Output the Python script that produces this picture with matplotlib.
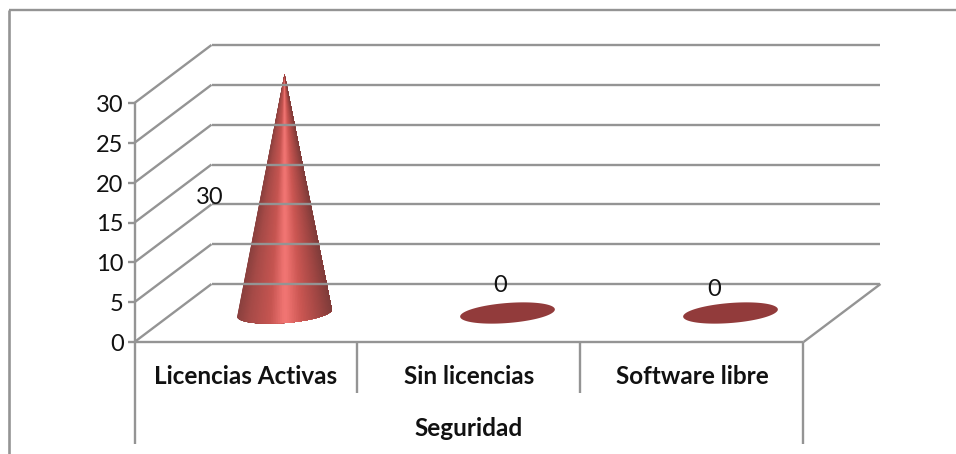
import numpy as np
import matplotlib
matplotlib.use("Agg")
import matplotlib.pyplot as plt
from matplotlib.patches import Polygon

categories = ["Licencias Activas", "Sin licencias", "Software libre"]
group_label = "Seguridad"
values = [30, 0, 0]
y_ticks = [0, 5, 10, 15, 20, 25, 30]

W, H = 956, 454
GREY = "#949494"
FLAT = "#923b3b"
plt.rcParams["font.family"] = ["Lato", "DejaVu Sans"]

fig = plt.figure(figsize=(W / 100, H / 100), dpi=100)
# axes = front plane of the 3d box
ax = fig.add_axes([134.5 / W, 1 - 342 / H, (803 - 134) / W, (342 - 103) / H])
ax.set_xlim(0, len(categories))
ax.set_ylim(0, max(y_ticks))
ax.axis("off")

# depth of the box, in pixels
dx, dy = 77, 58


def px(x, y, depth=0.0):
    p = ax.transData.transform((x, y))
    return p[0] + dx * depth, p[1] + dy * depth


def line(a, b, lw=1.7, z=1):
    fig.add_artist(plt.Line2D([a[0] / W, b[0] / W], [a[1] / H, b[1] / H],
                              color=GREY, lw=lw, zorder=z, solid_capstyle="butt"))


def ftext(p, s, **kw):
    fig.text(p[0] / W, p[1] / H, s, **kw)


# outer chart border (only top and left visible)
line((9, H - 10), (W, H - 10), lw=1.7)
line((9, H - 10), (9, 0), lw=1.9)

# walls
for t in y_ticks:
    a = px(0, t)
    b = px(0, t, 1)
    c = px(len(categories), t, 1)
    line(a, b)
    line(b, c)
    line((a[0] - 7, a[1]), a)
    ftext((a[0] - 11, a[1] - 2.5), str(t), ha="right", va="center", fontsize=17, color="#111111")

line(px(0, 0), px(0, 30))
line(px(0, 0), px(3, 0))
line(px(3, 0), px(3, 0, 1))

# category axis
for i in range(len(categories) + 1):
    x0, y0 = px(i, 0)
    drop = 102 if i in (0, len(categories)) else 51
    line((x0, y0), (x0, y0 - drop))
for i, c in enumerate(categories):
    x0, y0 = px(i + 0.5, 0)
    ftext((x0, y0 - 35), c, ha="center", va="center", fontsize=17.5, fontweight="bold", color="#111111")
x0, y0 = px(1.5, 0)
ftext((x0, y0 - 86), group_label, ha="center", va="center", fontsize=17.5, fontweight="bold", color="#111111")


def base(cx, cy, n=161):
    # tilted ellipse for the cone base
    a, b, tilt = 47.5, 10, np.radians(4.5)
    t = np.linspace(0, 2 * np.pi, n)
    ex = a * np.cos(t)
    ey = b * np.sin(t)
    return cx + ex * np.cos(tilt) - ey * np.sin(tilt), cy + ex * np.sin(tilt) + ey * np.cos(tilt)


stops = [-1.0, -0.75, -0.3, -0.02, 0.05, 0.35, 0.75, 1.0]
cols = np.array([matplotlib.colors.to_rgb(c) for c in
                 ["#8a403e", "#a64a47", "#c65551", "#f07472", "#f07472", "#cc5753", "#a04643", "#803c3a"]])


def shade(u):
    return [np.interp(u, stops, cols[:, k]) for k in range(3)]


label_shift = [(-75, -124), (-7, 28), (-16, 23)]
for i, v in enumerate(values):
    cx, cy = px(i + 0.5, 0, 0.5)
    ex, ey = base(cx, cy)
    if v == 0:
        ax.add_patch(Polygon(np.c_[ex, ey], closed=True, transform=None, fc=FLAT, ec="none", zorder=3, clip_on=False))
    else:
        tip = px(i + 0.5, v, 0.5)
        # lower half of the ellipse, painted left to right as an overlapping fan
        keep = np.arange(80, 161)
        for j in keep[:-1]:
            pts = [tip] + list(zip(ex[j:], ey[j:]))
            fc = shade((ex[j] + ex[j + 1]) / 2 / 47.5 - cx / 47.5)
            ax.add_patch(Polygon(pts, closed=True, transform=None, fc=fc, ec="none", zorder=3, clip_on=False))
    # data label
    lp = px(i + 0.5, v, 0.5)
    ftext((lp[0] + label_shift[i][0], lp[1] + label_shift[i][1]), str(v), ha="center", va="center",
          fontsize=17, color="#111111", zorder=5)

fig.savefig("out.png", dpi=100)
